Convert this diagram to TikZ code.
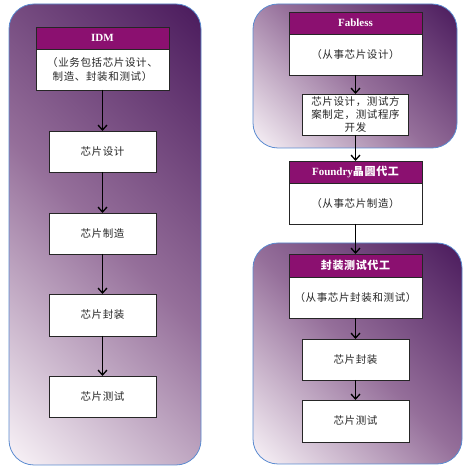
\documentclass[tikz,border=0pt]{standalone}
\usepackage{fontspec}
\setmainfont{Liberation Serif}
\newfontfamily\cjk[LetterSpace=6]{Noto Sans CJK SC}
\usetikzlibrary{arrows.meta}
\definecolor{hdr}{HTML}{8B1070}
\definecolor{edgeblue}{HTML}{5B8BD0}
\definecolor{txt}{HTML}{262626}
% left container: a=0.294 b=0.706
\pgfdeclarefunctionalshading{shL}{\pgfpointorigin}{\pgfpoint{100bp}{100bp}}{}{
25 sub 50 div 0.706 mul exch 25 sub 50 div 0.294 mul add
dup 0 lt {pop 0} if dup 1 gt {pop 1} if
dup 0.5 lt
{ 2 mul dup -0.396 mul 0.98 add exch dup -0.525 mul 0.96 add exch -0.371 mul 0.975 add }
{ 0.5 sub 2 mul dup -0.294 mul 0.584 add exch dup -0.333 mul 0.435 add exch -0.243 mul 0.604 add }
ifelse
}
% right top container: a=0.586 b=0.414
\pgfdeclarefunctionalshading{shT}{\pgfpointorigin}{\pgfpoint{100bp}{100bp}}{}{
25 sub 50 div 0.414 mul exch 25 sub 50 div 0.586 mul add
dup 0 lt {pop 0} if dup 1 gt {pop 1} if
dup 0.5 lt
{ 2 mul dup -0.396 mul 0.98 add exch dup -0.525 mul 0.96 add exch -0.371 mul 0.975 add }
{ 0.5 sub 2 mul dup -0.294 mul 0.584 add exch dup -0.333 mul 0.435 add exch -0.243 mul 0.604 add }
ifelse
}
% right bottom container: a=0.486 b=0.514
\pgfdeclarefunctionalshading{shB}{\pgfpointorigin}{\pgfpoint{100bp}{100bp}}{}{
25 sub 50 div 0.514 mul exch 25 sub 50 div 0.486 mul add
dup 0 lt {pop 0} if dup 1 gt {pop 1} if
dup 0.5 lt
{ 2 mul dup -0.396 mul 0.98 add exch dup -0.525 mul 0.96 add exch -0.371 mul 0.975 add }
{ 0.5 sub 2 mul dup -0.294 mul 0.584 add exch dup -0.333 mul 0.435 add exch -0.243 mul 0.604 add }
ifelse
}
\begin{document}
\begin{tikzpicture}[x=1pt,y=-1pt,
  cont/.style={draw=edgeblue, line width=0.8pt, rounded corners=25pt},
  hd/.style={draw=black!85, fill=hdr, text=white, font=\bfseries\fontsize{11}{13}\selectfont,
    minimum width=133pt, minimum height=22pt, inner sep=0pt, outer sep=0pt, line width=0.8pt},
  bd/.style={draw=black!85, fill=white, text=txt, font=\cjk\fontsize{10.5}{14}\selectfont,
    inner sep=0pt, outer sep=0pt, line width=0.8pt, align=center},
  arr/.style={-{Straight Barb[length=5pt,width=9pt]}, line width=1.3pt, black}
]
\useasboundingbox (0,0) rectangle (472,470);
% containers
\shade[cont, shading=shL] (9,4) rectangle (201,465);
\shade[cont, shading=shT] (253,4) rectangle (457,148);
\shade[cont, shading=shB] (253,243) rectangle (462,464);

% left column
\node[hd] (idmh) at (102.5,38) {IDM};
\node[bd, minimum width=133pt, minimum height=41pt] (idmb) at (102.5,69.5) {（业务包括芯片设计、\\制造、封装和测试）};
\node[bd, minimum width=107pt, minimum height=41pt] (l1) at (102.5,151.5) {芯片设计};
\node[bd, minimum width=107pt, minimum height=41pt] (l2) at (102.5,233.5) {芯片制造};
\node[bd, minimum width=107pt, minimum height=42pt] (l3) at (102.5,315) {芯片封装};
\node[bd, minimum width=107pt, minimum height=41pt] (l4) at (102.5,396.5) {芯片测试};
\draw[arr] (idmb.south) -- (l1.north);
\draw[arr] (l1.south) -- (l2.north);
\draw[arr] (l2.south) -- (l3.north);
\draw[arr] (l3.south) -- (l4.north);

% right column
\node[hd] (fabh) at (355.5,23) {Fabless};
\node[bd, minimum width=133pt, minimum height=41pt] (fabb) at (355.5,54.5) {（从事芯片设计）};
\node[bd, minimum width=106pt, minimum height=41pt, font=\cjk\fontsize{10.5}{13}\selectfont] (r1) at (355.5,114.5) {芯片设计，测试方\\案制定，测试程序\\开发};
\node[hd] (fndh) at (355.5,172) {Foundry{\cjk 晶圆代工}};
\node[bd, minimum width=133pt, minimum height=41pt] (fndb) at (355.5,203.5) {（从事芯片制造）};
\node[hd, minimum height=23pt] (pkh) at (355.5,265.5) {\cjk 封装测试代工};
\node[bd, minimum width=133pt, minimum height=41pt] (pkb) at (355.5,297.5) {（从事芯片封装和测试）};
\node[bd, minimum width=107pt, minimum height=41pt] (r2) at (355.5,359.5) {芯片封装};
\node[bd, minimum width=107pt, minimum height=42pt] (r3) at (355.5,421) {芯片测试};
\draw[arr] (fabb.south) -- (r1.north);
\draw[arr] (r1.south) -- (fndh.north);
\draw[arr] (fndb.south) -- (pkh.north);
\draw[arr] (pkb.south) -- (r2.north);
\draw[arr] (r2.south) -- (r3.north);
\end{tikzpicture}
\end{document}
